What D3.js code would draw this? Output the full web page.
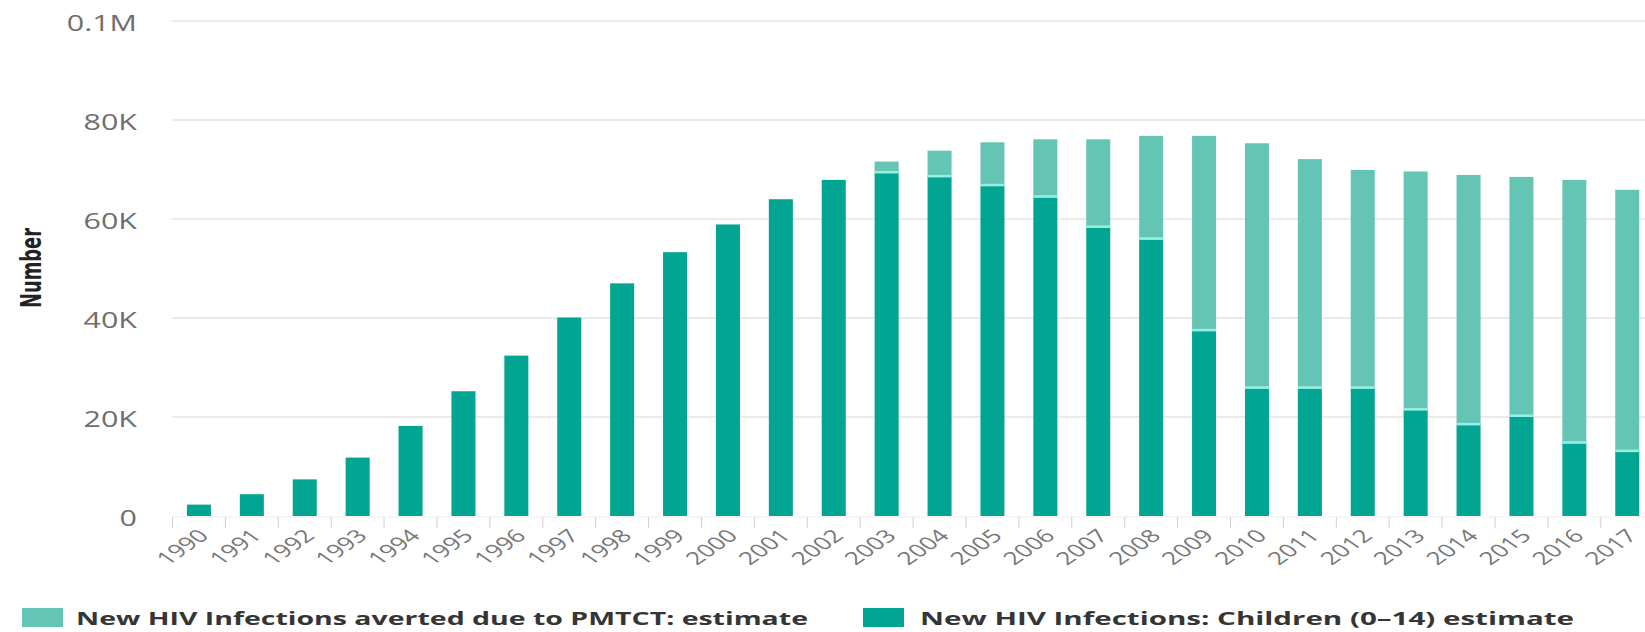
<!DOCTYPE html>
<html>
<head>
<meta charset="utf-8">
<script src="https://cdn.jsdelivr.net/npm/d3@7"></script>
<style>
  html, body { margin: 0; padding: 0; background: #ffffff; }
  svg { display: block; }
</style>
</head>
<body>
<svg id="chart" width="1645" height="632"></svg>
<script>
// Years on the category axis
const years = ["1990","1991","1992","1993","1994","1995","1996","1997","1998","1999",
  "2000","2001","2002","2003","2004","2005","2006","2007","2008","2009",
  "2010","2011","2012","2013","2014","2015","2016","2017"];

// New HIV infections among children (0-14), estimate
const childInfections = [2300, 4400, 7400, 11800, 18200, 25200, 32400, 40100, 47000, 53300,
  58900, 64000, 67900, 69300, 68500, 66700, 64400, 58300, 55900, 37400,
  25800, 25800, 25800, 21400, 18400, 20100, 14700, 13000];

// New HIV infections averted due to PMTCT, estimate
const avertedInfections = [0, 0, 0, 0, 0, 0, 0, 0, 0, 0,
  0, 0, 0, 2300, 5300, 8800, 11700, 17800, 20900, 39400,
  49500, 46300, 44100, 48200, 50500, 48400, 53200, 52900];

const yTickValues = [0, 20000, 40000, 60000, 80000, 100000];
const yTickLabels = ["0", "20K", "40K", "60K", "80K", "0.1M"];

const seriesNames = ["New HIV Infections averted due to PMTCT: estimate",
                     "New HIV Infections: Children (0\u201314) estimate"];
const seriesColors = ["#65c5b5", "#02a591"];

const rows = years.map((y, i) => ({ year: y, children: childInfections[i], averted: avertedInfections[i] }));

const svg = d3.select("#chart");
const textStretch = 1.45;

const x = d3.scaleBand()
  .domain(years)
  .range([172.5, 1653.7])
  .paddingInner(0.546)
  .paddingOuter(0.273);

const y = d3.scaleLinear().domain([0, 100000]).range([516, 21]);

// Gridlines
svg.append("g")
  .selectAll("line")
  .data(yTickValues.slice(1))
  .join("line")
  .attr("x1", 172).attr("x2", 1645)
  .attr("y1", d => y(d)).attr("y2", d => y(d))
  .attr("stroke", "#ebebeb")
  .attr("stroke-width", 2);

// Y tick labels
svg.append("g")
  .selectAll("text")
  .data(yTickValues)
  .join("text")
  .attr("transform", d => `translate(137,${y(d) + 10}) scale(${textStretch},1)`)
  .attr("text-anchor", "end")
  .attr("font-family", "'Open Sans', 'DejaVu Sans', sans-serif")
  .attr("font-size", 21)
  .attr("fill", "#6e6e6e")
  .text((d, i) => yTickLabels[i]);

// Y axis title
svg.append("text")
  .attr("transform", "translate(41,268) scale(1.35,1) rotate(-90)")
  .attr("text-anchor", "middle")
  .attr("font-family", "'Liberation Sans Narrow', 'DejaVu Sans Condensed', sans-serif")
  .attr("font-weight", "bold")
  .attr("font-size", 21)
  .attr("fill", "#222")
  .attr("textLength", 80)
  .attr("lengthAdjust", "spacingAndGlyphs")
  .text("Number");

// X axis ticks at band boundaries
const bounds = years.map(d => x(d) - x.step() * x.paddingOuter());
bounds.push(bounds[bounds.length - 1] + x.step());
svg.append("line")
  .attr("x1", 172).attr("x2", 1645)
  .attr("y1", y(0) + 1).attr("y2", y(0) + 1)
  .attr("stroke", "#eeeeee").attr("stroke-width", 1);
svg.append("g")
  .selectAll("line")
  .data(bounds)
  .join("line")
  .attr("x1", d => d).attr("x2", d => d)
  .attr("y1", y(0) + 1).attr("y2", y(0) + 12)
  .attr("stroke", "#d0d0d0")
  .attr("stroke-width", 1);

// Stacked bars: children at the base, averted on top
const bars = svg.append("g");
bars.selectAll("rect.children")
  .data(rows)
  .join("rect")
  .attr("class", "children")
  .attr("x", d => x(d.year))
  .attr("width", x.bandwidth())
  .attr("y", d => y(d.children))
  .attr("height", d => y(0) - y(d.children))
  .attr("fill", seriesColors[1]);

bars.selectAll("rect.averted")
  .data(rows.filter(d => d.averted > 0))
  .join("rect")
  .attr("class", "averted")
  .attr("x", d => x(d.year))
  .attr("width", x.bandwidth())
  .attr("y", d => y(d.children + d.averted))
  .attr("height", d => y(d.children) - y(d.children + d.averted))
  .attr("fill", seriesColors[0]);

// Thin bright seam between the two segments
bars.selectAll("rect.seam")
  .data(rows.filter(d => d.averted > 0))
  .join("rect")
  .attr("class", "seam")
  .attr("x", d => x(d.year))
  .attr("width", x.bandwidth())
  .attr("y", d => y(d.children) - 2)
  .attr("height", 2.5)
  .attr("fill", "#98efe3");

// X tick labels, rotated
svg.append("g")
  .selectAll("text")
  .data(years)
  .join("text")
  .attr("transform", d => `translate(${x(d) + x.bandwidth() / 2 + 11},537) scale(${textStretch},1) rotate(-45)`)
  .attr("text-anchor", "end")
  .attr("font-family", "'Open Sans', 'DejaVu Sans', sans-serif")
  .attr("font-size", 18)
  .attr("fill", "#777777")
  .text(d => d);

// Legend
const legendItems = [
  { name: seriesNames[0], color: seriesColors[0], sx: 22, tx: 76, len: 732 },
  { name: seriesNames[1], color: seriesColors[1], sx: 863, tx: 920, len: 654 }
];
const legend = svg.append("g");
legend.selectAll("rect")
  .data(legendItems)
  .join("rect")
  .attr("x", d => d.sx)
  .attr("y", 608)
  .attr("width", 41)
  .attr("height", 19)
  .attr("fill", d => d.color);
legend.selectAll("text")
  .data(legendItems)
  .join("text")
  .attr("x", d => d.tx)
  .attr("y", 625)
  .attr("font-family", "'Open Sans', 'DejaVu Sans', sans-serif")
  .attr("font-weight", 700)
  .attr("font-size", 18)
  .attr("fill", "#353535")
  .attr("textLength", d => d.len)
  .attr("lengthAdjust", "spacingAndGlyphs")
  .text(d => d.name);
</script>
</body>
</html>
